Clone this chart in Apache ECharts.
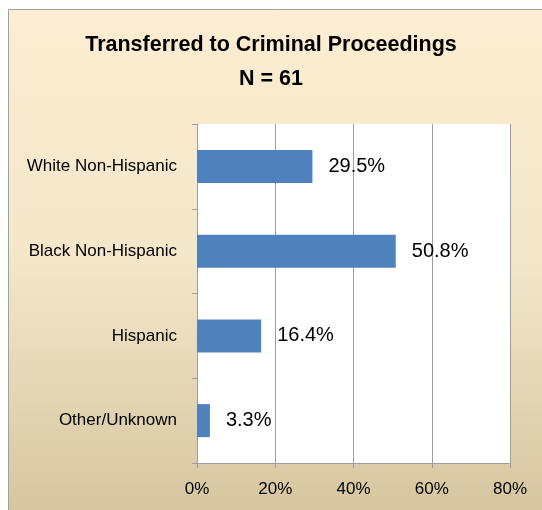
<!DOCTYPE html>
<html>
<head>
<meta charset="utf-8">
<script src="https://cdn.jsdelivr.net/npm/echarts@6/dist/echarts.min.js"></script>
<style>
  html, body { margin: 0; padding: 0; background: #ffffff; }
  #chart { width: 542px; height: 510px; }
</style>
</head>
<body>
<div id="chart"></div>
<script>
// Share of youths transferred to criminal proceedings, by race/ethnicity
const categories = ['White Non-Hispanic', 'Black Non-Hispanic', 'Hispanic', 'Other/Unknown'];
const percents = [29.5, 50.8, 16.4, 3.3];
const xTicks = [0, 20, 40, 60, 80];

const chart = echarts.init(document.getElementById('chart'), null, { renderer: 'canvas' });

const gridColor = '#9d9d9d';

chart.setOption({
  animation: false,
  backgroundColor: 'transparent',
  graphic: [{
    type: 'rect',
    z: -10,
    silent: true,
    shape: { x: 8.5, y: 9.5, width: 540, height: 505 },
    style: {
      fill: new echarts.graphic.LinearGradient(0, 0, 0, 1, [
        { offset: 0, color: '#fdedd2' },
        { offset: 0.5, color: '#f3e6c9' },
        { offset: 1, color: '#d6c69f' }
      ]),
      stroke: '#a0a0a0',
      lineWidth: 1
    }
  }],
  title: {
    text: 'Transferred to Criminal Proceedings\nN = 61',
    left: 'center',
    top: 28,
    padding: 0,
    textStyle: {
      fontFamily: 'Liberation Sans',
      fontWeight: 'bold',
      fontSize: 21.5,
      lineHeight: 34,
      color: '#000000'
    }
  },
  grid: {
    left: 197,
    right: 32,
    top: 124,
    bottom: 47,
    show: true,
    backgroundColor: '#ffffff',
    borderWidth: 0,
    containLabel: false
  },
  xAxis: {
    type: 'value',
    min: xTicks[0],
    max: xTicks[xTicks.length - 1],
    interval: 20,
    axisLine: { show: true, lineStyle: { color: gridColor, width: 1 } },
    axisTick: { show: true, length: 5, lineStyle: { color: gridColor } },
    splitLine: { show: true, lineStyle: { color: gridColor, width: 1 } },
    axisLabel: {
      formatter: v => v + '%',
      fontFamily: 'Liberation Sans',
      fontSize: 17,
      color: '#000000',
      margin: 18
    }
  },
  yAxis: {
    type: 'category',
    data: categories,
    inverse: true,
    axisLine: { show: true, lineStyle: { color: gridColor, width: 1 } },
    axisTick: { show: true, length: 5, alignWithLabel: false, lineStyle: { color: gridColor } },
    splitLine: { show: false },
    axisLabel: {
      fontFamily: 'Liberation Sans',
      fontSize: 17,
      color: '#000000',
      margin: 20
    }
  },
  series: [{
    type: 'bar',
    data: percents,
    barWidth: 33,
    itemStyle: { color: '#4f81bd' },
    label: {
      show: true,
      position: 'right',
      distance: 16,
      formatter: p => p.value.toFixed(1) + '%',
      fontFamily: 'Liberation Sans',
      fontSize: 20,
      color: '#000000'
    }
  }]
});
</script>
</body>
</html>
